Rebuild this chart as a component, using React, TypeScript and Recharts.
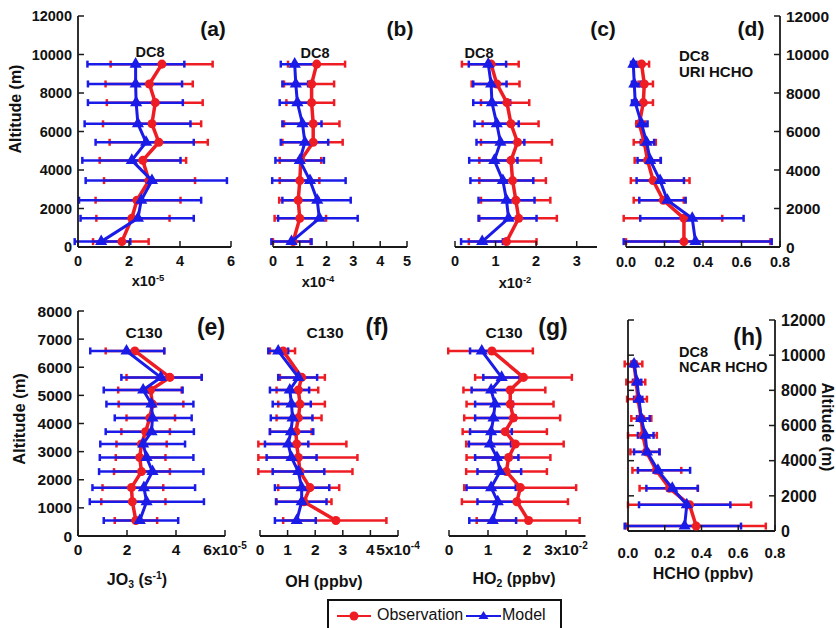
import React from "react";
import { ScatterChart, Scatter, XAxis, YAxis, ZAxis, ErrorBar } from "recharts";

const RED = "#ee1d24";
const BLUE = "#1b1be8";
const AX = "#1a1a1a";
const FONT = "'Liberation Sans', Arial, sans-serif";

// altitude bins (m)
const dc8Alt = [9500, 8470, 7500, 6400, 5440, 4500, 3450, 2430, 1490, 280];
const c130Alt = [6580, 5640, 5190, 4690, 4200, 3710, 3270, 2790, 2290, 1720, 1220, 550];

// (a) JO3 DC8, x1e-5
const obsA = [3.29, 2.8, 3.03, 2.9, 3.17, 2.54, 2.78, 2.31, 2.11, 1.72];
const obsALo = [1.28, 1.08, 1.13, 0.98, 1.24, 0.85, 1.02, 0.69, 0.72, 0.59];
const obsAHi = [5.28, 4.5, 4.89, 4.83, 5.09, 4.24, 4.59, 4.02, 3.59, 2.77];
const modA = [2.26, 2.26, 2.28, 2.35, 2.67, 2.11, 2.9, 2.48, 2.35, 0.91];
const modALo = [0.37, 0.39, 0.39, 0.26, 0.69, 0.17, 0.3, 0.04, 0.1, -0.13];
const modAHi = [4.17, 4.08, 4.11, 4.41, 4.54, 4.02, 5.84, 4.83, 4.54, 2.05];

// (b) OH DC8, x1e-4
const obsB = [1.63, 1.44, 1.44, 1.5, 1.5, 1.04, 1.0, 0.94, 1.0, 0.75];
const obsBLo = [0.56, 0.41, 0.5, 0.41, 0.35, 0.25, 0.25, 0.23, 0.06, 0.0];
const obsBHi = [2.69, 2.28, 2.28, 2.48, 2.6, 1.8, 1.73, 1.7, 1.98, 1.4];
const modB = [0.81, 0.85, 0.91, 1.1, 1.19, 1.0, 1.38, 1.65, 1.73, 0.69];
const modBLo = [0.29, 0.35, 0.25, 0.35, 0.29, 0.09, -0.03, 0.35, 0.19, -0.06];
const modBHi = [1.63, 1.31, 1.44, 1.81, 2.06, 1.9, 2.71, 2.9, 3.16, 1.44];

// (c) HO2 DC8, x1e-2
const obsC = [0.89, 1.03, 1.28, 1.38, 1.54, 1.38, 1.42, 1.5, 1.57, 1.27];
const obsCLo = [0.17, 0.41, 0.64, 0.68, 0.64, 0.6, 0.6, 0.64, 0.6, 0.34];
const obsCHi = [1.57, 1.59, 1.83, 2.06, 2.39, 2.12, 2.24, 2.35, 2.51, 2.01];
const modC = [0.82, 0.89, 0.91, 1.03, 1.12, 0.97, 1.18, 1.27, 1.32, 0.67];
const modCLo = [0.34, 0.45, 0.45, 0.48, 0.53, 0.35, 0.38, 0.58, 0.58, 0.15];
const modCHi = [1.26, 1.27, 1.36, 1.57, 1.71, 1.54, 1.93, 1.96, 2.01, 1.18];

// (d) HCHO DC8 URI
const obsD = [0.081, 0.095, 0.09, 0.069, 0.095, 0.112, 0.141, 0.194, 0.301, 0.301];
const obsDLo = [0.065, 0.065, 0.055, 0.055, 0.04, 0.045, 0.025, 0.04, -0.012, 0.0];
const obsDHi = [0.12, 0.14, 0.14, 0.1, 0.155, 0.18, 0.33, 0.3, 0.5, 0.75];
const modD = [0.038, 0.043, 0.048, 0.081, 0.107, 0.126, 0.177, 0.215, 0.344, 0.361];
const modDLo = [0.026, 0.031, 0.031, 0.055, 0.077, 0.06, 0.055, 0.069, 0.074, -0.012];
const modDHi = [0.052, 0.077, 0.086, 0.112, 0.146, 0.181, 0.301, 0.31, 0.611, 0.757];

// (e) JO3 C130, x1e-5
const obsE = [2.32, 3.75, 2.96, 3.04, 2.93, 2.76, 2.59, 2.52, 2.59, 2.18, 2.22, 2.36];
const obsELo = [1.13, 1.98, 1.64, 1.66, 1.98, 1.77, 1.57, 1.54, 1.47, 1.0, 0.95, 1.5];
const obsEHi = [3.52, 5.05, 4.23, 4.3, 3.96, 3.75, 3.62, 3.57, 3.75, 3.48, 3.57, 3.23];
const modE = [1.98, 3.38, 2.66, 3.0, 3.04, 3.0, 2.66, 2.8, 3.04, 2.69, 2.8, 2.52];
const modELo = [0.5, 1.77, 1.05, 1.16, 1.5, 1.13, 0.91, 0.89, 0.86, 0.59, 0.48, 1.05];
const modEHi = [3.52, 5.05, 4.27, 4.71, 4.64, 4.73, 4.37, 4.71, 5.12, 4.78, 5.14, 4.09];

// (f) OH C130, x1e-4
const obsF = [0.84, 1.51, 1.39, 1.45, 1.39, 1.3, 1.33, 1.39, 1.45, 1.81, 1.59, 2.75];
const obsFLo = [0.36, 0.72, 0.6, 0.66, 0.6, 0.36, -0.06, -0.06, -0.06, 0.66, 0.6, 0.84];
const obsFHi = [1.27, 2.35, 2.11, 2.35, 2.23, 1.87, 3.13, 3.53, 3.35, 2.87, 2.59, 4.58];
const modF = [0.66, 1.39, 1.08, 1.14, 1.18, 1.12, 1.02, 1.14, 1.39, 1.51, 1.51, 1.33];
const modFLo = [0.3, 0.66, 0.36, 0.46, 0.39, 0.36, 0.18, 0.24, 0.46, 0.54, 0.58, 0.54];
const modFHi = [1.02, 2.07, 1.78, 1.84, 1.9, 1.93, 1.75, 2.05, 2.33, 2.51, 2.41, 2.02];

// (g) HO2 C130, x1e-2
const obsG = [1.1, 1.91, 1.57, 1.57, 1.65, 1.44, 1.7, 1.53, 1.47, 1.83, 1.74, 2.04];
const obsGLo = [-0.02, 0.67, 0.37, 0.45, 0.39, 0.35, 0.44, 0.45, 0.44, 0.39, 0.33, 0.71];
const obsGHi = [2.15, 3.15, 2.47, 2.68, 2.85, 2.51, 2.94, 2.6, 2.51, 3.26, 3.05, 3.35];
const modG = [0.84, 1.35, 1.08, 1.18, 1.14, 1.08, 1.05, 1.23, 1.31, 1.08, 1.25, 1.12];
const modGLo = [0.54, 0.88, 0.58, 0.67, 0.67, 0.54, 0.51, 0.67, 0.73, 0.45, 0.73, 0.52];
const modGHi = [1.12, 1.81, 1.55, 1.64, 1.71, 1.61, 1.59, 1.78, 1.85, 1.71, 1.72, 1.72];

// (h) HCHO DC8 NCAR
const obsH = [0.033, 0.045, 0.054, 0.072, 0.081, 0.1, 0.154, 0.226, 0.335, 0.371];
const obsHLo = [-0.018, -0.009, -0.005, 0.018, 0.0, 0.013, 0.024, 0.063, 0.0, -0.01];
const obsHHi = [0.078, 0.094, 0.103, 0.127, 0.157, 0.17, 0.29, 0.38, 0.67, 0.75];
const modH = [0.033, 0.049, 0.06, 0.072, 0.094, 0.103, 0.163, 0.241, 0.32, 0.308];
const modHLo = [0.018, 0.027, 0.033, 0.049, 0.054, 0.033, 0.054, 0.1, 0.06, -0.018];
const modHHi = [0.045, 0.072, 0.078, 0.118, 0.139, 0.172, 0.338, 0.38, 0.557, 0.615];

const dc8Ticks = [0, 2000, 4000, 6000, 8000, 10000, 12000];
const c130Ticks = [0, 1000, 2000, 3000, 4000, 5000, 6000, 7000, 8000];

const buildRows = (alt: number[], mean: number[], lo: number[], hi: number[]) =>
  alt.map((a, i) => ({ alt: a, val: mean[i], err: [mean[i] - lo[i], hi[i] - mean[i]] }));

const XTick = ({ x, y, payload, dec, exp, expAt, fs, ly }: any) => {
  const v = payload.value;
  return (
    <g>
      <line x1={x} x2={x} y1={y} y2={y - 6} stroke={AX} strokeWidth={1.5} />
      <text x={x} y={y + ly} textAnchor="middle" fontSize={fs} fontWeight={700} fontFamily={FONT} fill="#111">
        {dec ? v.toFixed(dec) : v}
        {exp && v === expAt ? "x10" : ""}
        {exp && v === expAt ? <tspan dy={-6} fontSize={10}>{exp}</tspan> : null}
      </text>
    </g>
  );
};

const YTick = ({ x, y, payload, side, fs, labels }: any) => {
  const dir = side === "left" ? 1 : -1;
  return (
    <g>
      <line x1={x} x2={x + dir * 6} y1={y} y2={y} stroke={AX} strokeWidth={1.5} />
      {labels && (
        <text x={x - dir * 6} y={y} dy="0.36em" textAnchor={side === "left" ? "end" : "start"}
          fontSize={fs} fontWeight={700} fontFamily={FONT} fill="#111">
          {payload.value}
        </text>
      )}
    </g>
  );
};

const Panel = (p: any) => {
  const PL = 60, PR = 60, PT = 12, PB = 36;
  const w = p.x1 - p.x0 + PL + PR;
  const h = p.y1 - p.y0 + PT + PB;
  const obsRows = buildRows(p.alt, p.obs, p.obsLo, p.obsHi);
  const modRows = buildRows(p.alt, p.mod, p.modLo, p.modHi);
  const axisLine = { stroke: AX, strokeWidth: 1.8 };
  return (
    <div style={{ position: "absolute", left: p.x0 - PL, top: p.y0 - PT }}>
      <ScatterChart width={w} height={h} margin={{ top: PT, right: 0, bottom: 0, left: 0 }}>
        <XAxis type="number" dataKey="val" domain={[0, p.xMax]} ticks={p.xTicks} allowDataOverflow
          height={PB} interval={0} tickSize={0} tickMargin={0} tickLine={false} axisLine={axisLine}
          tick={(t: any) => <XTick {...t} dec={p.dec} exp={p.exp} expAt={p.expAt} fs={p.xfs} ly={p.ly ?? 19} />} />
        <YAxis yAxisId="L" type="number" dataKey="alt" domain={[0, p.yMax]} ticks={p.yTicks} allowDataOverflow
          width={PL} interval={0} tickSize={0} tickMargin={0} tickLine={false}
          axisLine={p.left !== "none" ? axisLine : false}
          tick={p.left === "none" ? false : (t: any) => <YTick {...t} side="left" fs={p.yfs} labels={p.left === "labels"} />} />
        <YAxis yAxisId="R" orientation="right" type="number" dataKey="alt" domain={[0, p.yMax]} ticks={p.yTicks}
          allowDataOverflow width={PR} interval={0} tickSize={0} tickMargin={0} tickLine={false}
          axisLine={p.right ? axisLine : false}
          tick={p.right ? (t: any) => <YTick {...t} side="right" fs={p.yfs} labels /> : false} />
        <ZAxis range={[60, 60]} />
        <Scatter yAxisId="L" data={obsRows} fill={RED} shape="circle" line={{ stroke: RED, strokeWidth: 3.5 }}
          lineType="joint" isAnimationActive={false}>
          <ErrorBar dataKey="err" direction="x" width={3.5} strokeWidth={2.5} stroke={RED} isAnimationActive={false} />
        </Scatter>
        <Scatter yAxisId="L" data={modRows} fill={BLUE} shape="triangle" line={{ stroke: BLUE, strokeWidth: 3 }}
          lineType="joint" isAnimationActive={false}>
          <ErrorBar dataKey="err" direction="x" width={3.5} strokeWidth={2.5} stroke={BLUE} isAnimationActive={false} />
        </Scatter>
      </ScatterChart>
    </div>
  );
};

const Txt = ({ x, y, size = 15, rot = 0, left = false, weight = 700, children }: any) => (
  <div
    style={{
      position: "absolute", left: x, top: y, whiteSpace: "nowrap", fontFamily: FONT, fontSize: size,
      fontWeight: weight, color: "#111", lineHeight: 1,
      transform: `${left ? "translate(0,-50%)" : "translate(-50%,-50%)"} rotate(${rot}deg)`,
    }}
  >
    {children}
  </div>
);

const sup = { fontSize: "0.65em", verticalAlign: "0.55em" } as const;
const sub = { fontSize: "0.65em", verticalAlign: "-0.3em" } as const;

export default function App() {
  return (
    <div style={{ position: "absolute", left: 0, top: 0, width: 836, height: 628, overflow: "hidden", background: "#fff" }}>
      <style>{`.recharts-surface g[clip-path]{clip-path:none !important}`}</style>

      {/* top row: DC8 */}
      <Panel x0={78} x1={231} y0={16} y1={247} xMax={6} xTicks={[0, 2, 4, 6]} xfs={14.5}
        yMax={12000} yTicks={dc8Ticks} yfs={14.5} left="labels"
        alt={dc8Alt} obs={obsA} obsLo={obsALo} obsHi={obsAHi} mod={modA} modLo={modALo} modHi={modAHi} />
      <Panel x0={273} x1={407} y0={16} y1={247} xMax={5} xTicks={[0, 1, 2, 3, 4, 5]} xfs={14.5}
        yMax={12000} yTicks={dc8Ticks} left="none"
        alt={dc8Alt} obs={obsB} obsLo={obsBLo} obsHi={obsBHi} mod={modB} modLo={modBLo} modHi={modBHi} />
      <Panel x0={455} x1={597} y0={16} y1={247} xMax={3.5} xTicks={[0, 1, 2, 3]} xfs={14.5}
        yMax={12000} yTicks={dc8Ticks} left="none"
        alt={dc8Alt} obs={obsC} obsLo={obsCLo} obsHi={obsCHi} mod={modC} modLo={modCLo} modHi={modCHi} />
      <Panel x0={626} x1={780} y0={16} y1={247} xMax={0.8} xTicks={[0, 0.2, 0.4, 0.6, 0.8]} dec={1} xfs={14.5} ly={20}
        yMax={12000} yTicks={dc8Ticks} yfs={15.5} left="none" right
        alt={dc8Alt} obs={obsD} obsLo={obsDLo} obsHi={obsDHi} mod={modD} modLo={modDLo} modHi={modDHi} />

      {/* bottom row: C130 + NCAR HCHO */}
      <Panel x0={78} x1={225} y0={311} y1={536} xMax={6} xTicks={[0, 2, 4, 6]} exp="-5" expAt={6} xfs={15.5} ly={18.5}
        yMax={8000} yTicks={c130Ticks} yfs={15.5} left="labels"
        alt={c130Alt} obs={obsE} obsLo={obsELo} obsHi={obsEHi} mod={modE} modLo={modELo} modHi={modEHi} />
      <Panel x0={260} x1={398} y0={311} y1={536} xMax={5} xTicks={[0, 1, 2, 3, 4, 5]} exp="-4" expAt={5} xfs={15.5} ly={18.5}
        yMax={8000} yTicks={c130Ticks} left="none"
        alt={c130Alt} obs={obsF} obsLo={obsFLo} obsHi={obsFHi} mod={modF} modLo={modFLo} modHi={modFHi} />
      <Panel x0={449} x1={585.5} y0={311} y1={536} xMax={3.5} xTicks={[0, 1, 2, 3]} exp="-2" expAt={3} xfs={15.5} ly={18.5}
        yMax={8000} yTicks={c130Ticks} left="none"
        alt={c130Alt} obs={obsG} obsLo={obsGLo} obsHi={obsGHi} mod={modG} modLo={modGLo} modHi={modGHi} />
      <Panel x0={628} x1={775} y0={320} y1={531} xMax={0.8} xTicks={[0, 0.2, 0.4, 0.6, 0.8]} dec={1} xfs={15} ly={27}
        yMax={12000} yTicks={dc8Ticks} yfs={16} left="ticks" right
        alt={dc8Alt} obs={obsH} obsLo={obsHLo} obsHi={obsHHi} mod={modH} modLo={modHLo} modHi={modHHi} />

      {/* annotations */}
      <Txt x={16} y={109} size={16} rot={-90}>Altitude (m)</Txt>
      <Txt x={19} y={419} size={16.5} rot={-90}>Altitude (m)</Txt>
      <Txt x={827} y={427} size={16} rot={90}>Altitude (m)</Txt>

      <Txt x={213} y={28} size={21}>(a)</Txt>
      <Txt x={400} y={28} size={21}>(b)</Txt>
      <Txt x={603} y={28} size={21}>(c)</Txt>
      <Txt x={751} y={28} size={21}>(d)</Txt>
      <Txt x={211} y={327} size={23}>(e)</Txt>
      <Txt x={377} y={327} size={23}>(f)</Txt>
      <Txt x={553} y={327} size={23}>(g)</Txt>
      <Txt x={748} y={337} size={23}>(h)</Txt>

      <Txt x={150} y={52} size={14.5}>DC8</Txt>
      <Txt x={315} y={53} size={14.5}>DC8</Txt>
      <Txt x={479} y={53} size={14.5}>DC8</Txt>
      <Txt x={679} y={55} size={15} left>DC8</Txt>
      <Txt x={679} y={71} size={15} left>URI HCHO</Txt>
      <Txt x={144} y={333} size={15.5}>C130</Txt>
      <Txt x={325} y={333} size={15.5}>C130</Txt>
      <Txt x={504} y={333} size={15.5}>C130</Txt>
      <Txt x={679} y={352} size={14.5} left>DC8</Txt>
      <Txt x={679} y={367} size={14.5} left>NCAR HCHO</Txt>

      <Txt x={148} y={281} size={14.5}>x10<span style={sup}>-5</span></Txt>
      <Txt x={318} y={282} size={14.5}>x10<span style={sup}>-4</span></Txt>
      <Txt x={515} y={283} size={14.5}>x10<span style={sup}>-2</span></Txt>

      <Txt x={137} y={581} size={16}>JO<span style={sub}>3</span> (s<span style={sup}>-1</span>)</Txt>
      <Txt x={324} y={582} size={16}>OH (ppbv)</Txt>
      <Txt x={514} y={580} size={16}>HO<span style={sub}>2</span> (ppbv)</Txt>
      <Txt x={703} y={574} size={16}>HCHO (ppbv)</Txt>

      {/* legend */}
      <div style={{ position: "absolute", left: 327, top: 599, width: 235, height: 40, border: "2px solid #111", boxSizing: "border-box" }}>
        <svg width={235} height={36} style={{ position: "absolute", left: 0, top: 0 }}>
          <line x1={8} x2={42} y1={15} y2={15} stroke={RED} strokeWidth={2} />
          <circle cx={25} cy={15} r={4.5} fill={RED} />
          <line x1={137} x2={172} y1={15} y2={15} stroke={BLUE} strokeWidth={2} />
          <polygon points="154.5,10 159.5,18 149.5,18" fill={BLUE} />
        </svg>
        <div style={{ position: "absolute", left: 48, top: 6, fontFamily: FONT, fontSize: 16, color: "#111", lineHeight: 1 }}>Observation</div>
        <div style={{ position: "absolute", left: 173, top: 6, fontFamily: FONT, fontSize: 16, color: "#111", lineHeight: 1 }}>Model</div>
      </div>
    </div>
  );
}
